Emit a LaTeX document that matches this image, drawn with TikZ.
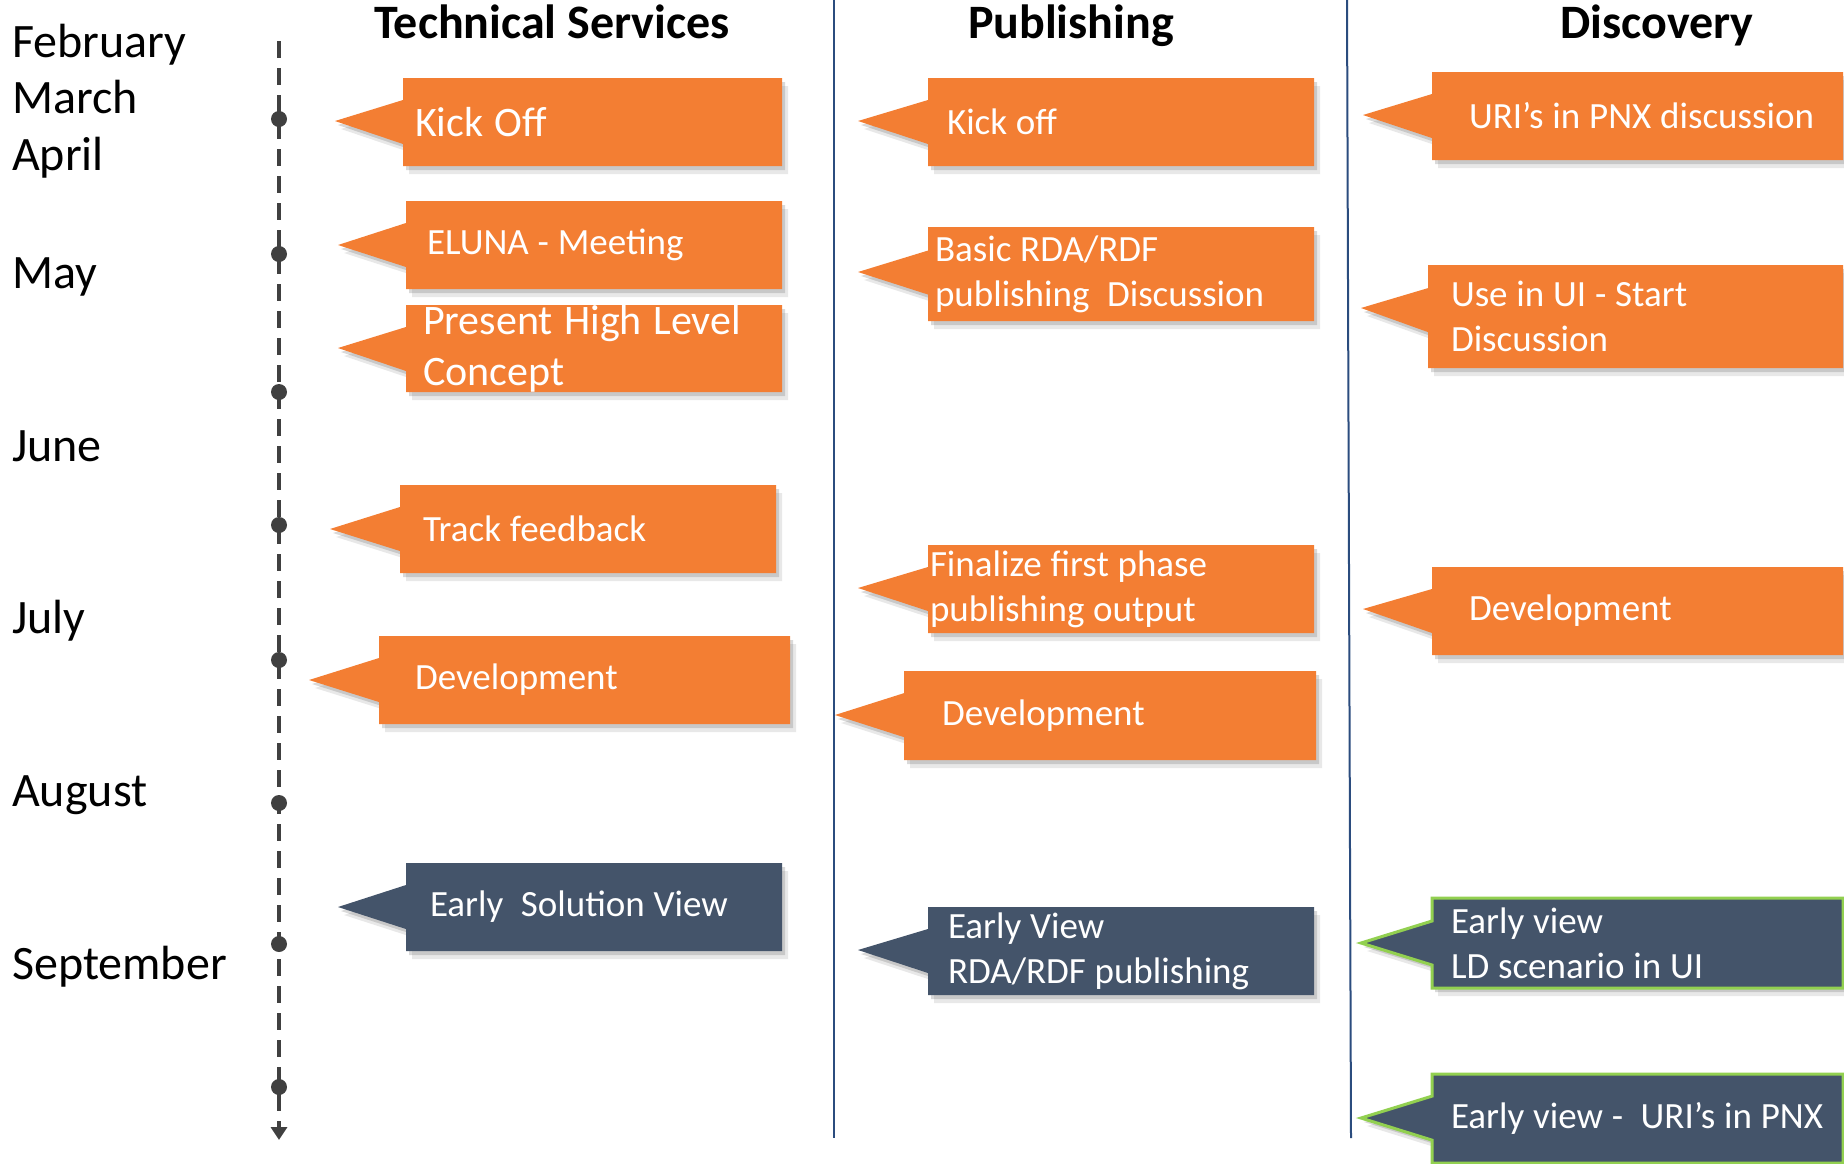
\documentclass[tikz,border=0pt]{standalone}
\usepackage{fontspec}
\setmainfont{Carlito}
\usetikzlibrary{shapes.callouts,shadows,arrows.meta}

\definecolor{noteorange}{HTML}{F37E33}
\definecolor{noteslate}{HTML}{44546A}
\definecolor{notegreen}{HTML}{92D050}
\definecolor{colline}{HTML}{2B4C7E}
\definecolor{timegray}{HTML}{404040}

\tikzset{
  note/.style={rectangle callout, fill=noteorange, text=white, align=left,
    inner ysep=0pt, callout pointer width=44pt,
    font=\fontsize{37}{45}\selectfont,
    execute at begin node={\spaceskip=8.8pt\relax},
    drop shadow={shadow xshift=3pt, shadow yshift=-4pt, opacity=0.25, fill=black!60},
    drop shadow={shadow xshift=6pt, shadow yshift=-8pt, opacity=0.15, fill=black!60}},
  early/.style={note, fill=noteslate},
  greenrim/.style={draw=notegreen, line width=3pt},
  big/.style={font=\fontsize{42}{51}\selectfont, execute at begin node={\spaceskip=11.5pt\relax}},
  month/.style={anchor=base west, inner sep=0pt, font=\fontsize{48}{58}\selectfont},
  colhead/.style={anchor=base, inner sep=0pt, font=\bfseries\fontsize{48}{58}\selectfont},
}

\begin{document}
\begin{tikzpicture}[x=1pt,y=-1pt]
\useasboundingbox (0,0) rectangle (1844,1163);

% months
\node[month] (feb) at (12,57) {February};
\node[month] (mar) at (12,113) {March};
\node[month] (apr) at (12,170) {April};
\node[month] (may) at (12,288) {May};
\node[month] (jun) at (12,461) {June};
\node[month] (jul) at (12,633) {July};
\node[month] (aug) at (12,806) {August};
\node[month] (sep) at (12,979) {September};

% timeline
\coordinate (tTop) at (279,41);
\coordinate (tEnd) at (279,1140);
\draw[timegray, line width=4pt, dash pattern=on 17pt off 10pt, -{Triangle[width=16pt,length=13pt]}] (tTop) -- (tEnd);
\foreach \y in {119,254,392,525,660,803,944,1087}
  \fill[timegray] (279,\y) circle (8pt);

% column heads and separators
\node[colhead] (hTech) at (552,38) {Technical Services};
\node[colhead] (hPub) at (1071,38) {Publishing};
\node[colhead] (hDisc) at (1657,38) {Discovery};
\draw[colline, line width=2pt] (834,0) -- (834,1138);
\draw[colline, line width=2pt] (1347,0) -- (1351,1138);

% technical services
\node[note, big, minimum width=379pt, minimum height=88pt, inner xsep=12pt, text width=355pt,
  callout absolute pointer={(335,121)}] (tsKick) at (592.5,122) {\mbox{Kick Off}};
\node[note, minimum width=376pt, minimum height=88pt, inner xsep=21pt, text width=334pt,
  callout absolute pointer={(338,245)}] (tsEluna) at (594,245) {\mbox{ELUNA - Meeting}};
\node[note, big, minimum width=376pt, minimum height=87pt, inner xsep=17pt, text width=342pt,
  callout absolute pointer={(338,348)}] (tsConcept) at (594,348.5) {\mbox{Present High Level}\\\mbox{Concept}};
\node[note, minimum width=376pt, minimum height=88pt, inner xsep=23pt, text width=330pt,
  callout absolute pointer={(330,529)}] (tsTrack) at (588,529) {\mbox{Track feedback}};
\node[note, minimum width=411pt, minimum height=88pt, inner xsep=36pt, text width=339pt,
  callout absolute pointer={(309,680)}] (tsDev) at (584.5,680) {\mbox{Development}};
\node[early, minimum width=376pt, minimum height=88pt, inner xsep=24pt, text width=328pt,
  callout absolute pointer={(338,907)}] (tsEarly) at (594,907) {\mbox{Early\ \ Solution View}};

% publishing
\node[note, minimum width=386pt, minimum height=88pt, inner xsep=19pt, text width=348pt,
  callout absolute pointer={(858,121)}] (pubKick) at (1121,122) {\mbox{Kick off}};
\node[note, minimum width=386pt, minimum height=94pt, inner xsep=7pt, text width=372pt,
  callout absolute pointer={(858,272)}] (pubBasic) at (1121,274) {\mbox{Basic RDA/RDF}\\\mbox{publishing\ \ Discussion}};
\node[note, minimum width=386pt, minimum height=88pt, inner xsep=2pt, text width=382pt,
  callout absolute pointer={(858,588)}] (pubFinal) at (1121,589) {\mbox{Finalize first phase}\\\mbox{publishing output}};
\node[note, minimum width=412pt, minimum height=89pt, inner xsep=38pt, text width=336pt,
  callout absolute pointer={(835,715)}] (pubDev) at (1110,715.5) {\mbox{Development}};
\node[early, minimum width=386pt, minimum height=88pt, inner xsep=20pt, text width=346pt,
  callout absolute pointer={(858,950)}] (pubEarly) at (1121,951) {\mbox{Early View}\\\mbox{RDA/RDF publishing}};

% discovery
\node[note, minimum width=411pt, minimum height=88pt, inner xsep=37pt, text width=337pt,
  callout absolute pointer={(1363,115)}] (discUri) at (1637.5,116) {\mbox{URI’s in PNX discussion}};
\node[note, minimum width=415pt, minimum height=103pt, inner xsep=23pt, text width=369pt,
  callout absolute pointer={(1361,308)}] (discUse) at (1635.5,316.5) {\mbox{Use in UI - Start}\\\mbox{Discussion}};
\node[note, minimum width=411pt, minimum height=88pt, inner xsep=37pt, text width=337pt,
  callout absolute pointer={(1363,609)}] (discDev) at (1637.5,611) {\mbox{Development}};
\node[early, greenrim, minimum width=411pt, minimum height=90pt, inner xsep=19pt, text width=373pt,
  callout absolute pointer={(1361,943)}] (discLd) at (1637.5,943) {\mbox{Early view}\\\mbox{LD scenario in UI}};
\node[early, greenrim, minimum width=411pt, minimum height=89pt, inner xsep=19pt, text width=373pt,
  callout absolute pointer={(1361,1118)}] (discPnx) at (1637.5,1118.5) {\mbox{Early view -\ \ URI’s in PNX}};
\end{tikzpicture}
\end{document}
